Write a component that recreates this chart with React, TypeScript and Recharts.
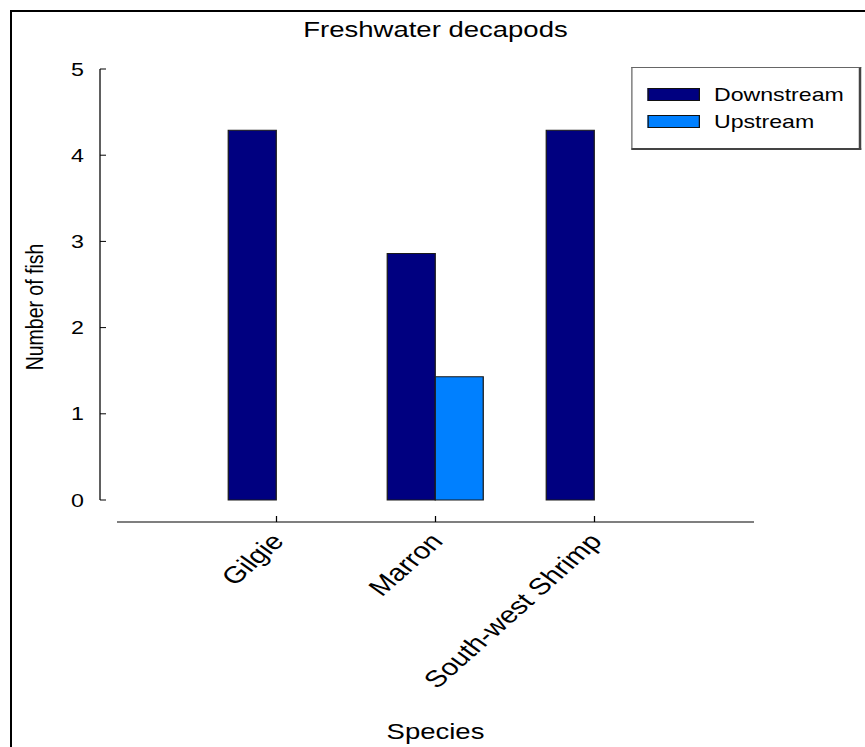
import React from 'react';
import { BarChart, Bar, XAxis, YAxis, Legend } from 'recharts';

const species = ['Gilgie', 'Marron', 'South-west Shrimp'];
const downstream = [4.29, 2.86, 4.29];
const upstream = [0, 1.43, 0];
const yTicks = [0, 1, 2, 3, 4, 5];
const seriesNames = ['Downstream', 'Upstream'];
const seriesColors = ['#000080', '#0080FF'];
const seriesValues = [downstream, upstream];

const data = species.map((s, i) => {
  const row: Record<string, any> = { species: s };
  seriesNames.forEach((n, k) => {
    row[n] = seriesValues[k][i];
  });
  return row;
});

const SX = 1.25;
const W = 692;
const H = 747;
const FONT = '"Liberation Sans", Arial, Helvetica, sans-serif';

function LegendBox(props: any) {
  const payload = props.payload || [];
  return (
    <div
      style={{
        width: 184,
        height: 83,
        boxSizing: 'border-box',
        borderTop: '1px solid #666',
        borderLeft: '1px solid #666',
        borderRight: '2px solid #444',
        borderBottom: '2px solid #444',
        background: '#fff',
        position: 'relative',
        fontFamily: FONT,
      }}
    >
      {payload.map((p: any, i: number) => (
        <div
          key={String(p.value)}
          style={{
            position: 'absolute',
            left: 12.6,
            top: 20.3 + i * 26.7,
            height: 13,
            display: 'flex',
            alignItems: 'center',
          }}
        >
          <div
            style={{
              width: 41.6,
              height: 13,
              boxSizing: 'border-box',
              background: p.color,
              border: '1px solid #111',
            }}
          />
          <span
            style={{
              marginLeft: 11.2,
              fontSize: 18.5,
              lineHeight: '13px',
              color: '#000',
              whiteSpace: 'nowrap',
            }}
          >
            {p.value}
          </span>
        </div>
      ))}
    </div>
  );
}

export default function App() {
  return (
    <div
      style={{
        position: 'absolute',
        left: 0,
        top: 0,
        width: 865,
        height: 747,
        overflow: 'hidden',
        background: '#fff',
      }}
    >
      <div style={{ position: 'absolute', left: 10, top: 10, width: 855, height: 2, background: '#000' }} />
      <div style={{ position: 'absolute', left: 10, top: 10, width: 2, height: 737, background: '#000' }} />
      <div
        style={{
          position: 'absolute',
          left: 0,
          top: 0,
          width: W,
          height: H,
          transform: `scaleX(${SX})`,
          transformOrigin: '0 0',
          fontFamily: FONT,
        }}
      >
        <div
          style={{
            position: 'absolute',
            left: 93.6,
            top: 19.4,
            width: 509.6,
            textAlign: 'center',
            fontSize: 22,
            lineHeight: '22px',
            color: '#000',
            whiteSpace: 'nowrap',
          }}
        >
          Freshwater decapods
        </div>
        <BarChart
          width={W}
          height={H}
          data={data}
          margin={{ top: 69, right: 88.8, bottom: 0, left: 0 }}
          barGap={0}
          barSize={38.4}
          style={{ fontFamily: FONT }}
        >
          <XAxis
            xAxisId="b"
            dataKey="species"
            height={225}
            padding={{ left: 64, right: 64 }}
            interval={0}
            angle={-48}
            textAnchor="end"
            tickSize={-6}
            tickMargin={15}
            tick={{ fontSize: 23.5, fill: '#000', dx: -5.5 }}
            axisLine={{ stroke: '#000', strokeWidth: 1 }}
            tickLine={{ stroke: '#000', strokeWidth: 1 }}
            label={{ value: 'Species', position: 'insideBottom', offset: 8, fontSize: 22, fill: '#000' }}
          />
          <XAxis xAxisId="a" height={22} tick={false} axisLine={false} tickLine={false} />
          <YAxis
            yAxisId="b"
            width={80}
            domain={[0, 5]}
            ticks={yTicks}
            interval={0}
            tickSize={-4.8}
            tickMargin={17.6}
            tick={{ fontSize: 18.6, fill: '#000' }}
            axisLine={{ stroke: '#000', strokeWidth: 1 }}
            tickLine={{ stroke: '#000', strokeWidth: 1 }}
            label={{
              value: 'Number of fish',
              angle: -90,
              position: 'insideLeft',
              offset: 27.2,
              dy: 22.5,
              fontSize: 19.5,
              fill: '#000',
              style: { textAnchor: 'middle' },
            }}
          />
          <YAxis yAxisId="a" width={13.6} tick={false} axisLine={false} tickLine={false} />
          <Legend
            layout="horizontal"
            verticalAlign="middle"
            align="center"
            wrapperStyle={{ position: 'absolute', left: 504.8, top: 67, width: 184, height: 83 }}
            content={LegendBox}
          />
          {seriesNames.map((n, k) => (
            <Bar
              key={n}
              xAxisId="b"
              yAxisId="b"
              dataKey={n}
              name={n}
              fill={seriesColors[k]}
              stroke="#1a1a1a"
              strokeWidth={1}
              isAnimationActive={false}
            />
          ))}
        </BarChart>
      </div>
    </div>
  );
}
